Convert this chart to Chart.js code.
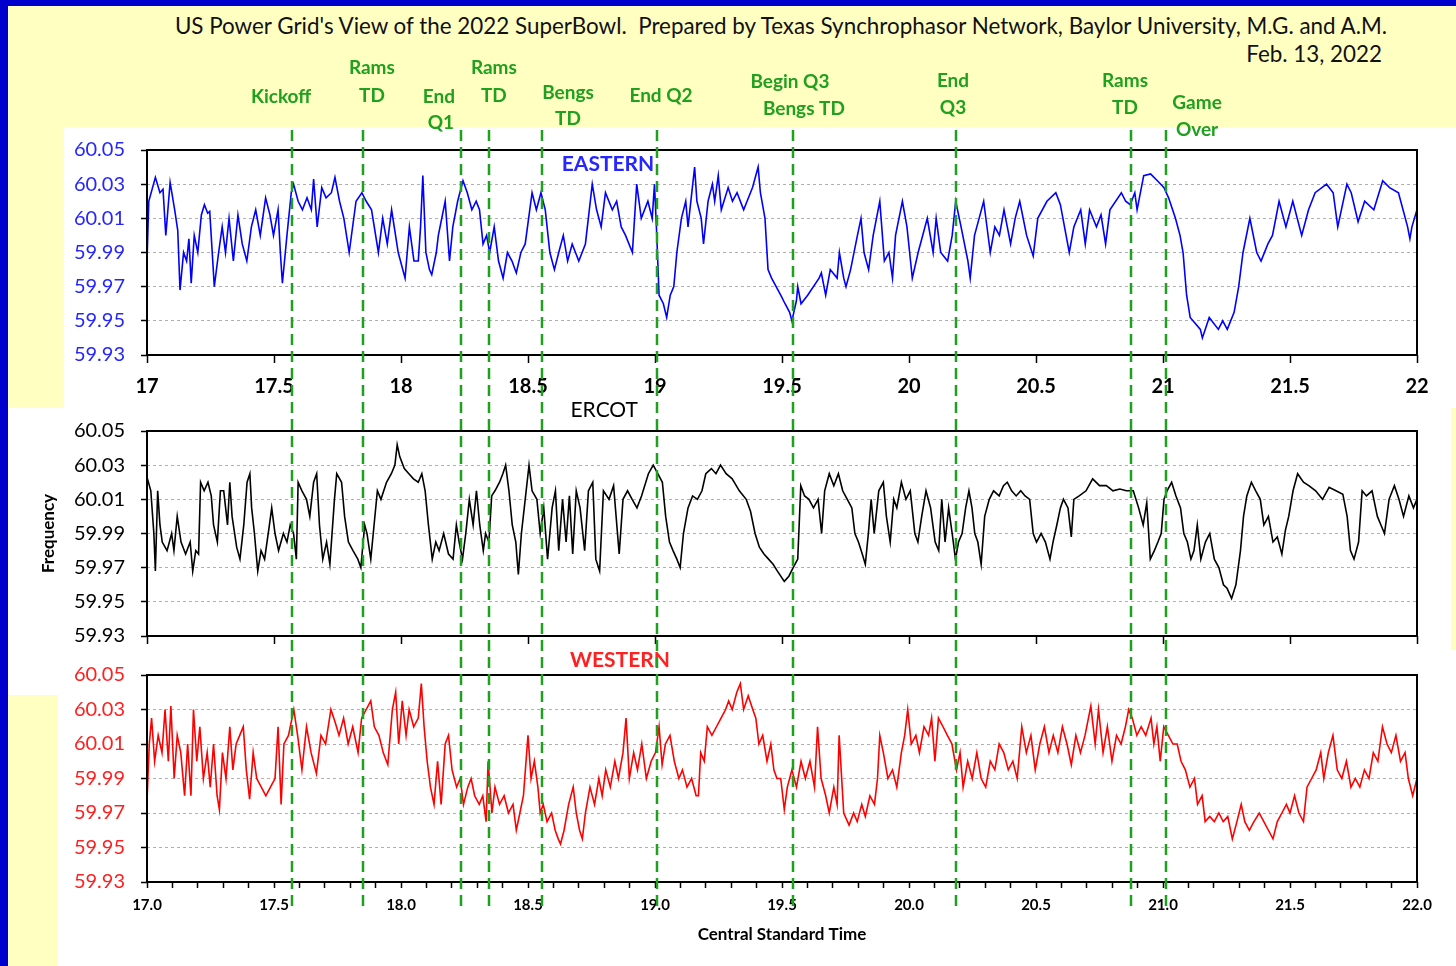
<!DOCTYPE html>
<html lang="en">
<head>
<meta charset="UTF-8">
<title>US Power Grid's View of the 2022 SuperBowl</title>
<script src="https://cdn.jsdelivr.net/npm/chart.js@4.4.0/dist/chart.umd.min.js"></script>
<style>
  body { margin: 0; width: 1456px; height: 966px; background: #0000cc; position: relative; overflow: hidden;
         font-family: Lato, 'Open Sans', sans-serif; }
  .box { position: absolute; }
  .sheet { left: 8px; top: 6px; width: 1448px; height: 960px; background: #ffffc2; }
  .white { background: #fff; }
  canvas { position: absolute; left: 0; }
  #title { position: absolute; left: 781px; top: 12px; transform: translateX(-50%); white-space: nowrap;
           font-size: 22.4px; line-height: 27px; color: #111; }
  #date { position: absolute; right: 74px; top: 40px; white-space: nowrap; font-size: 22.4px; line-height: 27px; color: #111; }
</style>
</head>
<body>
<div class="box sheet"></div>
<div class="box white" style="left:64px;top:127px;width:1392px;height:281px"></div>
<div class="box white" style="left:8px;top:408px;width:1443px;height:242px"></div>
<div class="box white" style="left:8px;top:650px;width:1448px;height:45px"></div>
<div class="box white" style="left:58px;top:695px;width:1398px;height:271px"></div>

<div id="title">US Power Grid's View of the 2022 SuperBowl.&nbsp; Prepared by Texas Synchrophasor Network, Baylor University, M.G. and A.M.</div>
<div id="date">Feb. 13, 2022</div>

<canvas id="east" width="1456" height="408" style="top:0"></canvas>
<canvas id="ercot" width="1456" height="260" style="top:390px"></canvas>
<canvas id="west" width="1456" height="326" style="top:640px"></canvas>

<script>
// ---- data (hours CST, Hz) ----
const freqTicks = [59.93, 59.95, 59.97, 59.99, 60.01, 60.03, 60.05];
const timeTicks = [17, 17.5, 18, 18.5, 19, 19.5, 20, 20.5, 21, 21.5, 22];

const eventTimes = [17.571, 17.850, 18.236, 18.346, 18.555, 19.008, 19.543, 20.185, 20.874, 21.012];
const eventNames = [
  ['Kickoff'], ['Rams', 'TD'], ['End', 'Q1'], ['Rams', 'TD'], ['Bengs', 'TD'],
  ['End Q2'], ['Begin Q3', 'Bengs TD'], ['End', 'Q3'], ['Rams', 'TD'], ['Game', 'Over']
];

const eastT = [
  17.000,17.007,17.033,17.051,17.063,17.074,17.091,17.109,17.121,17.130,
  17.144,17.156,17.165,17.174,17.186,17.200,17.214,17.226,17.239,17.247,
  17.265,17.282,17.296,17.309,17.323,17.340,17.358,17.375,17.393,17.411,
  17.428,17.446,17.467,17.484,17.498,17.516,17.525,17.533,17.551,17.568,
  17.577,17.595,17.612,17.630,17.647,17.656,17.670,17.688,17.705,17.726,
  17.740,17.758,17.775,17.796,17.823,17.846,17.863,17.884,17.911,17.928,
  17.946,17.963,17.989,18.016,18.033,18.051,18.068,18.077,18.086,18.098,
  18.112,18.121,18.139,18.147,18.174,18.191,18.204,18.223,18.244,18.261,
  18.279,18.296,18.309,18.323,18.337,18.349,18.367,18.384,18.402,18.419,
  18.437,18.454,18.472,18.489,18.516,18.533,18.551,18.568,18.586,18.604,
  18.621,18.639,18.656,18.674,18.700,18.726,18.753,18.770,18.788,18.805,
  18.832,18.849,18.867,18.884,18.911,18.928,18.946,18.972,18.989,18.998,
  19.007,19.016,19.033,19.046,19.060,19.074,19.086,19.104,19.121,19.130,
  19.156,19.165,19.182,19.191,19.209,19.226,19.235,19.249,19.261,19.288,
  19.305,19.323,19.349,19.384,19.406,19.415,19.433,19.445,19.459,19.477,
  19.495,19.512,19.530,19.539,19.557,19.562,19.575,19.601,19.646,19.655,
  19.672,19.690,19.717,19.726,19.743,19.752,19.770,19.797,19.811,19.823,
  19.841,19.859,19.885,19.903,19.921,19.935,19.947,19.974,19.992,20.006,
  20.013,20.036,20.072,20.095,20.107,20.125,20.152,20.170,20.184,20.205,
  20.232,20.241,20.258,20.276,20.294,20.320,20.338,20.356,20.374,20.400,
  20.418,20.436,20.463,20.489,20.507,20.543,20.578,20.596,20.631,20.649,
  20.676,20.694,20.711,20.738,20.756,20.774,20.791,20.836,20.853,20.871,
  20.889,20.898,20.924,20.951,20.978,21.004,21.022,21.049,21.067,21.079,
  21.093,21.107,21.147,21.155,21.182,21.218,21.235,21.253,21.280,21.298,
  21.315,21.342,21.369,21.386,21.413,21.431,21.457,21.484,21.511,21.546,
  21.573,21.599,21.644,21.670,21.688,21.724,21.741,21.768,21.794,21.830,
  21.865,21.892,21.927,21.936,21.963,21.972,21.980,22.000
];
const eastF = [
  59.985,60.020,60.034,60.025,60.027,60.000,60.031,60.015,60.003,59.968,
  59.990,59.985,59.998,59.972,60.000,59.990,60.012,60.018,60.013,60.014,
  59.970,59.990,60.005,59.990,60.010,59.985,60.012,59.995,59.985,60.005,
  60.015,60.000,60.022,60.012,60.000,60.015,59.990,59.972,60.000,60.025,
  60.030,60.020,60.015,60.022,60.015,60.033,60.005,60.028,60.022,60.025,
  60.034,60.020,60.010,59.990,60.020,60.025,60.020,60.015,59.990,60.010,
  59.995,60.015,59.990,59.975,60.005,59.985,59.985,60.005,60.035,59.990,
  59.980,59.977,59.990,60.000,60.020,59.985,60.005,60.020,60.032,60.025,
  60.015,60.020,60.015,59.995,60.000,59.990,60.005,59.985,59.975,59.990,
  59.985,59.978,59.990,59.995,60.025,60.015,60.025,60.015,59.990,59.980,
  59.990,60.000,59.985,59.995,59.985,59.995,60.030,60.015,60.005,60.025,
  60.015,60.020,60.005,60.000,59.990,60.030,60.010,60.020,60.010,60.030,
  60.000,59.965,59.960,59.952,59.965,59.970,59.990,60.010,60.020,60.005,
  60.040,60.020,60.010,59.995,60.020,60.030,60.020,60.035,60.015,60.028,
  60.020,60.025,60.015,60.028,60.040,60.025,60.010,59.980,59.975,59.970,
  59.965,59.960,59.955,59.950,59.962,59.970,59.960,59.965,59.975,59.978,
  59.965,59.980,59.975,59.990,59.975,59.970,59.980,60.000,60.010,59.990,
  59.980,60.000,60.020,59.985,59.990,59.975,60.000,60.020,60.005,59.985,
  59.975,59.990,60.010,59.990,60.010,59.990,59.985,60.000,60.020,60.005,
  59.985,59.975,60.000,60.010,60.020,59.990,60.005,60.000,60.015,59.995,
  60.010,60.020,60.000,59.988,60.010,60.020,60.025,60.018,59.990,60.005,
  60.015,59.995,60.015,60.005,60.012,59.995,60.015,60.025,60.020,60.018,
  60.025,60.015,60.035,60.036,60.032,60.028,60.022,60.010,60.000,59.990,
  59.965,59.952,59.945,59.940,59.952,59.945,59.950,59.945,59.955,59.970,
  59.990,60.010,59.990,59.985,59.995,60.000,60.020,60.005,60.020,60.000,
  60.015,60.025,60.030,60.025,60.005,60.030,60.025,60.008,60.020,60.015,
  60.032,60.028,60.025,60.020,60.005,59.998,60.005,60.015
];

const ercotT = [
  17.000,17.015,17.027,17.033,17.042,17.051,17.060,17.079,17.097,17.106,
  17.119,17.134,17.152,17.170,17.180,17.192,17.203,17.211,17.225,17.240,
  17.253,17.262,17.277,17.289,17.302,17.317,17.326,17.335,17.353,17.366,
  17.381,17.394,17.405,17.412,17.423,17.436,17.449,17.463,17.482,17.491,
  17.504,17.518,17.537,17.551,17.564,17.577,17.588,17.595,17.610,17.628,
  17.641,17.656,17.668,17.679,17.692,17.707,17.720,17.738,17.747,17.766,
  17.778,17.793,17.811,17.830,17.842,17.857,17.866,17.881,17.894,17.907,
  17.921,17.943,17.962,17.976,17.985,17.995,18.013,18.031,18.049,18.068,
  18.082,18.095,18.108,18.123,18.137,18.150,18.168,18.187,18.205,18.218,
  18.229,18.242,18.255,18.269,18.284,18.297,18.310,18.324,18.333,18.346,
  18.357,18.370,18.388,18.401,18.412,18.425,18.438,18.452,18.462,18.474,
  18.489,18.504,18.516,18.535,18.548,18.562,18.577,18.595,18.608,18.621,
  18.636,18.650,18.663,18.676,18.690,18.705,18.723,18.738,18.755,18.767,
  18.782,18.797,18.819,18.837,18.859,18.874,18.892,18.910,18.929,18.947,
  18.974,18.993,19.011,19.029,19.042,19.057,19.071,19.086,19.099,19.112,
  19.130,19.148,19.167,19.185,19.200,19.222,19.240,19.258,19.280,19.304,
  19.332,19.359,19.376,19.394,19.411,19.429,19.447,19.465,19.482,19.509,
  19.527,19.544,19.562,19.574,19.589,19.606,19.624,19.642,19.656,19.668,
  19.686,19.704,19.722,19.739,19.757,19.775,19.787,19.801,19.816,19.828,
  19.840,19.851,19.863,19.881,19.899,19.911,19.926,19.940,19.952,19.970,
  19.988,20.005,20.023,20.035,20.050,20.067,20.085,20.103,20.117,20.129,
  20.142,20.156,20.170,20.183,20.195,20.209,20.223,20.236,20.248,20.259,
  20.271,20.284,20.298,20.316,20.333,20.355,20.372,20.387,20.404,20.422,
  20.440,20.457,20.475,20.489,20.502,20.520,20.537,20.555,20.567,20.582,
  20.596,20.608,20.626,20.639,20.649,20.670,20.697,20.723,20.750,20.777,
  20.803,20.830,20.856,20.883,20.904,20.922,20.936,20.950,20.966,20.980,
  20.993,21.004,21.016,21.034,21.051,21.069,21.082,21.096,21.110,21.122,
  21.135,21.149,21.167,21.184,21.202,21.220,21.238,21.252,21.270,21.287,
  21.305,21.317,21.330,21.348,21.365,21.383,21.397,21.415,21.433,21.450,
  21.468,21.482,21.495,21.512,21.530,21.553,21.574,21.601,21.628,21.654,
  21.681,21.708,21.725,21.738,21.752,21.770,21.784,21.801,21.823,21.844,
  21.858,21.872,21.890,21.911,21.929,21.947,21.968,21.986,22.000
];
const ercotF = [
  60.023,60.015,59.990,59.968,60.015,59.995,59.985,59.980,59.990,59.980,
  60.000,59.985,59.978,59.985,59.968,59.980,59.978,60.020,60.015,60.020,
  60.012,59.995,59.985,60.015,60.015,59.995,60.020,60.000,59.982,59.975,
  59.995,60.020,60.025,60.005,59.990,59.968,59.980,59.975,59.995,60.005,
  59.990,59.980,59.990,59.985,59.995,59.990,59.975,60.020,60.015,60.010,
  60.000,60.020,60.025,59.995,59.975,59.985,59.972,60.010,60.025,60.020,
  60.000,59.985,59.980,59.975,59.970,59.995,59.990,59.975,59.995,60.015,
  60.010,60.020,60.025,60.030,60.042,60.035,60.028,60.025,60.022,60.020,
  60.025,60.015,59.995,59.975,59.985,59.980,59.990,59.978,59.975,59.995,
  59.985,59.975,59.990,60.010,59.995,60.015,59.995,59.980,59.990,59.985,
  60.012,60.015,60.020,60.025,60.030,60.015,59.995,59.985,59.966,59.990,
  60.010,60.030,60.015,60.010,59.990,60.005,59.975,60.005,60.015,59.980,
  60.010,59.985,60.012,59.978,60.015,60.005,59.980,60.015,60.020,59.975,
  59.968,60.015,60.010,60.018,59.978,60.010,60.015,60.010,60.005,60.012,
  60.025,60.030,60.025,60.020,60.000,59.985,59.980,59.975,59.970,59.990,
  60.005,60.012,60.010,60.015,60.025,60.028,60.025,60.030,60.025,60.022,
  60.015,60.010,60.003,59.990,59.982,59.978,59.975,59.972,59.968,59.962,
  59.965,59.970,59.975,60.018,60.012,60.010,60.005,60.010,59.990,60.015,
  60.025,60.018,60.025,60.015,60.010,60.005,59.990,59.985,59.978,59.972,
  59.990,60.010,59.990,60.015,60.020,60.000,59.985,60.010,60.005,60.020,
  60.010,60.015,59.990,59.985,60.000,60.015,60.005,59.985,59.980,60.010,
  59.985,60.005,59.990,59.975,59.985,59.990,60.005,60.015,60.005,59.990,
  59.985,59.972,60.000,60.010,60.015,60.012,60.018,60.020,60.015,60.012,
  60.015,60.012,60.010,59.990,59.985,59.990,59.985,59.975,59.985,59.995,
  60.005,60.010,60.005,59.988,60.010,60.012,60.015,60.022,60.018,60.018,
  60.015,60.016,60.015,60.015,60.005,59.995,60.008,59.975,59.980,59.985,
  59.990,60.010,60.015,60.020,60.012,60.005,59.990,59.985,59.975,59.980,
  59.995,59.975,59.985,59.990,59.975,59.970,59.960,59.958,59.952,59.960,
  59.980,60.000,60.012,60.020,60.015,60.010,59.995,60.000,59.985,59.988,
  59.978,59.992,60.000,60.015,60.025,60.020,60.018,60.015,60.010,60.017,
  60.015,60.013,60.000,59.980,59.975,59.985,60.015,60.012,60.015,60.000,
  59.995,59.990,60.010,60.018,60.010,60.000,60.012,60.005,60.010
];

const westT = [
  17.000,17.009,17.018,17.030,17.044,17.059,17.071,17.084,17.094,17.107,
  17.119,17.133,17.148,17.160,17.173,17.183,17.196,17.208,17.222,17.237,
  17.249,17.262,17.276,17.285,17.297,17.311,17.326,17.338,17.351,17.365,
  17.379,17.391,17.404,17.418,17.432,17.450,17.468,17.486,17.504,17.516,
  17.528,17.539,17.557,17.578,17.593,17.610,17.628,17.646,17.667,17.685,
  17.703,17.724,17.742,17.756,17.774,17.792,17.810,17.831,17.845,17.863,
  17.881,17.895,17.913,17.930,17.948,17.966,17.979,17.991,18.005,18.020,
  18.032,18.050,18.068,18.080,18.091,18.103,18.116,18.130,18.144,18.158,
  18.174,18.187,18.201,18.219,18.233,18.246,18.263,18.276,18.290,18.308,
  18.322,18.335,18.343,18.358,18.370,18.388,18.406,18.423,18.441,18.454,
  18.468,18.482,18.500,18.512,18.525,18.539,18.548,18.560,18.575,18.593,
  18.607,18.619,18.628,18.642,18.660,18.678,18.690,18.703,18.714,18.726,
  18.744,18.762,18.779,18.792,18.806,18.824,18.842,18.856,18.874,18.886,
  18.899,18.916,18.931,18.948,18.966,18.985,19.002,19.016,19.028,19.041,
  19.059,19.076,19.094,19.108,19.126,19.144,19.162,19.171,19.180,19.194,
  19.206,19.224,19.242,19.260,19.278,19.290,19.304,19.322,19.336,19.349,
  19.367,19.385,19.397,19.409,19.424,19.441,19.456,19.468,19.480,19.495,
  19.509,19.521,19.539,19.557,19.575,19.592,19.610,19.628,19.640,19.654,
  19.672,19.686,19.704,19.717,19.725,19.743,19.764,19.782,19.796,19.814,
  19.828,19.846,19.864,19.876,19.885,19.899,19.917,19.935,19.952,19.970,
  19.983,19.995,20.009,20.027,20.041,20.059,20.077,20.089,20.102,20.116,
  20.134,20.151,20.169,20.187,20.201,20.213,20.231,20.249,20.267,20.284,
  20.302,20.320,20.338,20.355,20.373,20.391,20.409,20.426,20.444,20.462,
  20.480,20.497,20.515,20.533,20.551,20.568,20.586,20.604,20.622,20.639,
  20.657,20.675,20.693,20.716,20.733,20.746,20.764,20.781,20.799,20.817,
  20.835,20.852,20.865,20.879,20.897,20.914,20.932,20.953,20.964,20.976,
  20.989,21.003,21.021,21.039,21.056,21.071,21.088,21.106,21.124,21.136,
  21.154,21.166,21.184,21.202,21.220,21.237,21.255,21.273,21.291,21.308,
  21.322,21.340,21.358,21.379,21.397,21.415,21.433,21.450,21.468,21.486,
  21.500,21.518,21.535,21.553,21.567,21.585,21.603,21.621,21.633,21.651,
  21.669,21.686,21.704,21.722,21.740,21.757,21.775,21.793,21.811,21.828,
  21.846,21.864,21.882,21.899,21.917,21.935,21.953,21.966,21.983,22.000
];
const westF = [
  59.977,60.010,60.025,60.000,60.015,60.005,60.030,60.000,60.032,59.990,
  60.015,60.005,59.980,60.010,59.980,60.030,60.000,60.020,59.990,60.005,
  59.985,60.010,59.980,59.972,60.005,59.990,60.020,59.995,60.010,60.015,
  60.020,59.995,59.978,60.005,59.990,59.985,59.980,59.985,59.990,60.020,
  59.975,60.010,60.015,60.030,60.015,59.995,60.020,60.005,59.993,60.015,
  60.010,60.030,60.022,60.015,60.025,60.010,60.020,60.005,60.025,60.030,
  60.035,60.020,60.015,60.005,59.998,60.030,60.040,60.010,60.035,60.015,
  60.030,60.020,60.025,60.045,60.020,60.000,59.985,59.975,60.000,59.975,
  60.010,60.015,59.995,59.985,59.990,59.975,59.985,59.990,59.980,59.975,
  59.980,59.965,60.000,59.970,59.985,59.975,59.980,59.970,59.975,59.960,
  59.970,59.980,60.015,59.990,60.000,59.985,59.970,59.975,59.965,59.970,
  59.960,59.955,59.952,59.960,59.975,59.985,59.970,59.960,59.955,59.970,
  59.985,59.975,59.990,59.980,59.995,59.985,60.000,59.990,60.005,60.025,
  59.990,60.005,59.995,60.010,59.990,60.000,60.005,60.020,59.998,60.010,
  60.015,60.000,59.990,59.995,59.985,59.990,59.980,59.980,60.005,60.000,
  60.020,60.015,60.020,60.025,60.030,60.035,60.030,60.040,60.045,60.030,
  60.038,60.030,60.025,60.010,60.015,60.000,60.010,59.995,59.990,59.990,
  59.972,59.985,59.995,59.985,60.000,59.990,60.000,59.985,60.020,59.990,
  59.980,59.970,59.985,59.975,60.015,59.970,59.963,59.970,59.965,59.975,
  59.968,59.980,59.975,59.990,60.015,60.005,59.990,59.995,59.985,60.005,
  60.015,60.030,60.010,60.015,60.005,60.020,60.015,60.025,60.000,60.025,
  60.020,60.015,60.010,59.995,60.005,59.985,60.000,59.990,60.005,59.990,
  59.985,60.000,59.995,60.010,60.005,59.995,60.000,59.990,60.020,60.005,
  60.015,59.995,60.010,60.020,60.005,60.015,60.005,60.020,60.010,59.998,
  60.015,60.005,60.015,60.032,60.010,60.030,60.005,60.020,60.000,60.015,
  60.010,60.020,60.030,60.025,60.015,60.020,60.015,60.025,60.010,60.020,
  60.000,60.020,60.015,60.010,60.010,60.000,59.995,59.985,59.990,59.975,
  59.980,59.965,59.968,59.965,59.970,59.965,59.968,59.955,59.965,59.975,
  59.965,59.960,59.965,59.970,59.965,59.960,59.955,59.965,59.970,59.975,
  59.970,59.980,59.970,59.965,59.985,59.990,59.995,60.005,59.990,60.005,
  60.015,59.995,59.990,60.000,59.985,59.990,59.985,59.995,59.990,60.005,
  60.000,60.020,60.010,60.005,60.015,60.000,60.005,59.990,59.980,59.990
];

// ---- drawing ----
const FONT = "Lato, 'Open Sans', sans-serif";
const GREEN = '#1fa01f';
// label placement for each event: [dx from line, y] per text line
const eventLabelPos = [
  [[-11, 97]], [[9, 68], [9, 96]], [[-22, 97], [-20, 123]], [[5, 68], [5, 96]], [[26, 93], [26, 119]],
  [[4, 96]], [[-3, 82], [11, 109]], [[-3, 81], [-3, 108]], [[-6, 81], [-6, 108]], [[31, 103], [31, 130]]
];

const framePlugin = {
  id: 'frame',
  afterDraw(chart, args, opts) {
    const {ctx, chartArea: a, scales: {x}} = chart;
    ctx.save();
    ctx.strokeStyle = '#000';
    ctx.lineWidth = 2;
    ctx.strokeRect(a.left, a.top, a.width, a.height);

    ctx.fillStyle = opts.nameColor;
    ctx.font = opts.nameFont;
    ctx.textAlign = 'center';
    ctx.textBaseline = 'middle';
    ctx.fillText(opts.name, x.getPixelForValue(opts.nameT), opts.nameY);

    // game events, dashes kept in phase across the three canvases
    ctx.strokeStyle = GREEN;
    ctx.lineWidth = 2.5;
    ctx.setLineDash([11, 6]);
    ctx.lineDashOffset = opts.dashOffset;
    eventTimes.forEach(t => {
      const px = Math.round(x.getPixelForValue(t));
      ctx.beginPath();
      ctx.moveTo(px, opts.y0);
      ctx.lineTo(px, opts.y1);
      ctx.stroke();
    });

    if (opts.eventLabels) {
      ctx.setLineDash([]);
      ctx.fillStyle = GREEN;
      ctx.font = 'bold 19px ' + FONT;
      eventNames.forEach((lines, i) => {
        const px = x.getPixelForValue(eventTimes[i]);
        lines.forEach((txt, j) => {
          const [dx, y] = eventLabelPos[i][j];
          ctx.fillText(txt, px + dx, y);
        });
      });
    }
    ctx.restore();
  }
};

function makePanel(id, times, freqs, p) {
  return new Chart(document.getElementById(id), {
    type: 'line',
    data: {
      datasets: [{
        data: times.map((t, i) => ({x: t, y: freqs[i]})),
        borderColor: p.color,
        borderWidth: 1.6,
        pointRadius: 0,
        tension: 0
      }]
    },
    options: {
      responsive: false,
      animation: false,
      events: [],
      layout: { padding: { left: 0, right: 39, top: p.top, bottom: 0 } },
      plugins: {
        legend: { display: false },
        tooltip: { enabled: false },
        frame: p.frame
      },
      scales: {
        x: {
          type: 'linear', min: 17, max: 22,
          afterBuildTicks: s => { s.ticks = p.xTicks.map(v => ({value: v})); },
          afterFit: s => { s.height = p.xAxisH; s.paddingLeft = 0; s.paddingRight = 0; },
          grid: { drawOnChartArea: false, drawTicks: true, tickLength: p.xTickLen, tickColor: '#000', tickWidth: 1.5 },
          border: { display: false },
          ticks: {
            display: p.xLabels, autoSkip: false, maxRotation: 0, padding: p.xPad, color: '#000',
            font: { family: FONT, size: p.xFont, weight: 'bold' },
            callback: p.xFmt
          },
          title: p.xTitle || { display: false }
        },
        y: {
          min: 59.93, max: 60.05,
          afterBuildTicks: s => { s.ticks = freqTicks.map(v => ({value: v})); },
          afterFit: s => { s.width = 147; s.paddingTop = 0; s.paddingBottom = 0; },
          grid: { color: '#b0b0b0', lineWidth: 1, drawTicks: true, tickLength: 6, tickColor: '#000', tickWidth: 1.5, tickBorderDash: [] },
          border: { display: false, dash: [3, 3] },
          ticks: { color: p.yColor, padding: 16, font: { family: FONT, size: 20 }, callback: v => v.toFixed(2) },
          title: p.yTitle || { display: false }
        }
      }
    },
    plugins: [framePlugin]
  });
}

const minorTicks = [];
for (let k = 0; k <= 50; k++) minorTicks.push(17 + k / 10);

makePanel('east', eastT, eastF, {
  color: '#0000ff', yColor: '#2626ff', top: 150, xAxisH: 53, xTickLen: 8, xPad: 12, xFont: 20,
  xLabels: true, xTicks: timeTicks, xFmt: v => String(v),
  frame: { y0: 130, y1: 408, dashOffset: 0, name: 'EASTERN', nameT: 18.815, nameY: 164,
           nameColor: '#2626ff', nameFont: 'bold 21px ' + FONT, eventLabels: true }
});

makePanel('ercot', ercotT, ercotF, {
  color: '#000', yColor: '#000', top: 41, xAxisH: 14, xTickLen: 8, xPad: 0, xFont: 12,
  xLabels: false, xTicks: timeTicks, xFmt: v => '',
  yTitle: { display: true, text: 'Frequency', color: '#000', font: { family: FONT, size: 17, weight: 'bold' }, padding: { top: 38, bottom: 0 } },
  frame: { y0: 18, y1: 260, dashOffset: 278, name: 'ERCOT', nameT: 18.8, nameY: 20,
           nameColor: '#000', nameFont: '21px ' + FONT, eventLabels: false }
});

makePanel('west', westT, westF, {
  color: '#ff0000', yColor: '#ff2020', top: 35, xAxisH: 84, xTickLen: 6, xPad: 8, xFont: 15,
  xLabels: true, xTicks: minorTicks,
  xFmt: v => timeTicks.some(t => Math.abs(t - v) < 1e-6) ? v.toFixed(1) : '',
  xTitle: { display: true, text: 'Central Standard Time', color: '#000', font: { family: FONT, size: 17, weight: 'bold' }, padding: { top: 0, bottom: 21 } },
  frame: { y0: 10, y1: 270, dashOffset: 520, name: 'WESTERN', nameT: 18.862, nameY: 20,
           nameColor: '#ff2020', nameFont: 'bold 21px ' + FONT, eventLabels: false }
});
</script>
</body>
</html>
